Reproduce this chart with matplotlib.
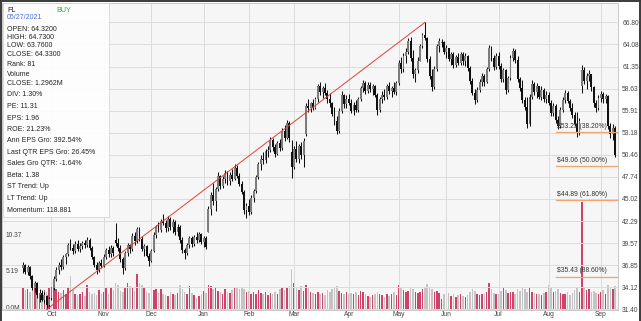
import numpy as np
import pandas as pd
import matplotlib
matplotlib.use("Agg")
import matplotlib.pyplot as plt
import matplotlib.transforms as mtransforms
from matplotlib.patches import Rectangle
from matplotlib.lines import Line2D

plt.rcParams['font.family'] = ['Liberation Sans', 'DejaVu Sans']

# trading days Sep 15 2020 .. Sep 10 2021
holidays = ["2020-11-26", "2020-12-25", "2021-01-01", "2021-01-18", "2021-02-15",
            "2021-04-02", "2021-05-31", "2021-07-05", "2021-09-06"]
dates = pd.bdate_range("2020-09-15", "2021-09-10", freq="C", holidays=holidays)

opens = [
    36.5, 36.9, 36.0, 36.6, 35.5, 34.0, 34.6, 33.2, 33.4, 32.6, 33.0, 31.9,
    32.8, 34.0, 35.2, 36.3, 36.9, 36.6, 37.8, 38.2, 39.3, 39.0, 38.6, 39.5, 38.9, 39.2, 39.6, 39.3, 40.0, 39.0, 37.9, 36.9, 36.2, 37.1,
    36.8, 37.9, 38.7, 38.2, 39.0, 40.0, 39.6, 39.0, 37.6, 36.5, 38.4, 39.3, 38.8, 40.5, 39.8, 41.3, 40.1, 38.9, 39.2, 38.0,
    37.4, 38.6, 40.6, 41.5, 41.2, 42.3, 42.0, 41.4, 42.6, 41.5, 42.2, 41.0, 41.6, 39.9, 38.7, 38.3, 39.4, 40.2, 39.5, 40.3, 40.0, 40.7,
    39.7, 40.2, 41.0, 43.8, 45.5, 44.8, 46.2, 47.8, 46.6, 47.5, 48.2, 47.2, 48.0, 47.5, 48.9, 47.9, 46.9, 45.9, 43.6,
    44.2, 43.4, 45.2, 46.0, 47.7, 49.3, 50.0, 49.8, 50.9, 51.1, 52.3, 51.4, 50.6, 51.9, 51.3, 53.4, 52.6, 54.4, 50.8,
    49.0, 51.2, 50.0, 51.5, 50.4, 53.0, 56.5, 56.2, 56.8, 56.3, 57.3, 58.9, 58.2, 58.7, 58.1, 57.3, 56.8, 55.5, 54.6, 53.4, 55.9, 57.8, 56.7,
    57.4, 56.9, 55.9, 56.6, 56.0, 57.3, 58.7, 59.3, 58.4, 59.1, 58.6, 58.9, 57.9, 56.0, 57.3, 57.9, 57.6, 58.9, 58.3, 58.7, 58.2,
    59.3, 61.8, 61.0, 62.6, 63.2, 64.5, 62.4, 60.5, 60.9, 62.1, 63.9, 65.2, 64.9, 62.3, 60.2, 58.8, 61.0, 63.9, 64.32, 64.33,
    63.2, 63.6, 62.3, 62.9, 61.5, 62.5, 61.8, 62.9, 62.0, 62.6, 61.2, 59.6, 58.1, 57.2, 58.5, 59.4, 60.2, 59.5, 61.0, 63.6, 62.4, 61.3,
    62.7, 61.4, 59.8, 60.9, 58.5, 59.9, 62.4, 63.3, 62.2, 59.8, 58.7, 57.2, 56.4, 54.3, 57.6, 59.2, 58.2, 58.9, 57.6, 58.5, 57.4,
    57.9, 56.9, 55.6, 56.5, 54.8, 54.0, 56.0, 57.2, 58.1, 57.1, 56.2, 55.4, 54.3, 53.2, 59.0, 60.9, 59.6, 60.2, 60.4, 58.8, 56.8, 56.2,
    57.5, 58.0, 57.3, 57.7, 54.0, 53.0, 53.8,
]
highs = [
    37.2, 37.0, 36.9, 36.8, 35.6, 34.9, 34.8, 33.9, 33.8, 33.5, 33.2, 32.9,
    34.2, 35.5, 36.6, 37.3, 37.6, 38.1, 38.4, 39.6, 40.1, 39.5, 39.8, 39.9, 39.6, 39.8, 40.0, 40.3, 40.2, 39.2, 38.0, 37.2, 37.4, 37.6,
    38.2, 39.0, 39.2, 39.3, 39.2, 42.0, 40.2, 39.4, 37.9, 38.6, 39.6, 39.5, 40.8, 41.0, 41.6, 41.5, 40.4, 39.5, 39.4, 38.3,
    38.8, 40.9, 41.8, 42.2, 42.6, 43.2, 42.4, 42.9, 42.8, 42.5, 42.4, 41.9, 41.8, 40.3, 39.0, 39.6, 40.5, 40.4, 40.6, 40.9, 41.0, 40.8,
    40.5, 40.4, 44.1, 45.9, 47.0, 46.5, 48.3, 48.0, 47.9, 48.6, 48.5, 48.4, 48.7, 49.3, 49.2, 48.2, 47.2, 46.1, 44.5,
    45.0, 45.5, 46.3, 48.0, 49.6, 50.4, 50.8, 51.2, 51.5, 52.7, 52.6, 51.8, 52.2, 52.4, 53.8, 54.2, 54.8, 54.6, 52.3,
    51.6, 52.2, 51.8, 52.0, 52.5, 56.9, 57.3, 57.0, 57.4, 57.6, 59.2, 59.4, 59.0, 59.3, 58.5, 58.1, 57.0, 56.4, 55.2, 56.2, 58.3, 58.0, 57.8,
    58.0, 57.3, 57.0, 57.2, 57.6, 59.0, 59.7, 59.6, 59.4, 59.5, 59.2, 59.1, 58.1, 57.6, 58.3, 58.6, 59.2, 59.5, 59.0, 59.4, 59.6,
    62.2, 62.5, 63.0, 63.6, 64.9, 65.0, 63.4, 61.2, 62.5, 64.2, 65.5, 66.8, 65.0, 62.6, 61.0, 61.4, 64.2, 64.9, 64.73, 64.5,
    64.0, 63.7, 63.2, 63.1, 62.8, 63.0, 63.2, 63.1, 63.0, 62.8, 61.4, 59.9, 58.6, 58.8, 59.8, 60.6, 60.5, 61.3, 64.0, 63.9, 62.8, 63.0,
    63.2, 61.8, 61.2, 61.0, 60.2, 62.8, 63.7, 63.5, 62.6, 60.1, 59.7, 57.6, 57.6, 58.0, 59.7, 59.5, 59.3, 59.0, 58.9, 58.7, 58.3,
    58.2, 57.2, 56.9, 56.7, 55.3, 56.4, 57.6, 58.5, 58.3, 57.4, 56.9, 55.8, 55.7, 55.0, 61.6, 61.3, 60.6, 60.9, 60.5, 59.0, 57.2, 57.8,
    58.3, 58.2, 58.0, 57.8, 54.4, 54.3, 54.0,
]
lows = [
    35.9, 35.8, 35.6, 35.2, 33.8, 33.6, 32.8, 32.3, 32.4, 32.2, 31.4, 31.6,
    32.6, 33.8, 34.9, 35.8, 36.2, 36.4, 37.0, 38.0, 38.7, 38.2, 38.4, 38.6, 38.5, 38.8, 39.0, 39.1, 38.7, 37.6, 36.6, 35.8, 36.0, 36.5,
    36.6, 37.6, 37.9, 37.8, 38.0, 39.2, 38.6, 37.2, 35.8, 36.3, 38.0, 38.4, 38.6, 39.4, 39.6, 39.8, 38.6, 38.0, 37.8, 36.7,
    37.2, 38.5, 40.2, 40.9, 41.0, 41.8, 41.0, 41.1, 41.2, 40.8, 40.6, 40.4, 39.6, 38.4, 37.6, 38.1, 39.0, 39.1, 39.2, 39.6, 39.7, 39.5,
    39.1, 38.9, 40.9, 43.1, 44.3, 43.5, 46.0, 46.2, 46.4, 47.0, 46.8, 46.8, 47.2, 47.3, 47.6, 46.6, 45.6, 43.2, 42.7,
    43.0, 43.2, 44.6, 45.8, 47.5, 48.6, 49.3, 49.5, 50.2, 50.8, 51.0, 50.2, 50.4, 51.0, 51.1, 52.2, 52.4, 52.0, 47.6,
    48.7, 49.6, 49.4, 50.0, 49.0, 52.8, 55.8, 55.8, 56.0, 56.1, 57.0, 57.8, 57.5, 57.9, 56.9, 56.4, 55.2, 54.2, 53.0, 53.2, 55.6, 56.3, 56.2,
    56.6, 55.6, 55.4, 55.7, 55.8, 57.1, 58.2, 58.0, 58.1, 58.2, 57.8, 57.6, 55.4, 55.8, 56.8, 57.2, 57.4, 58.0, 57.6, 58.0, 57.9,
    59.1, 60.6, 60.7, 61.8, 62.9, 62.0, 60.0, 59.5, 60.6, 62.0, 63.6, 64.6, 61.9, 59.8, 58.3, 58.6, 60.8, 63.2, 63.76, 62.9,
    62.4, 62.0, 61.6, 61.2, 61.3, 61.5, 61.6, 61.6, 61.4, 60.8, 59.2, 57.8, 56.7, 57.0, 58.2, 58.9, 59.0, 59.3, 60.8, 62.0, 60.9, 61.1,
    61.0, 59.4, 59.5, 58.0, 58.2, 59.7, 62.1, 61.8, 59.4, 58.3, 56.8, 56.0, 53.8, 54.0, 57.3, 57.8, 57.5, 57.3, 57.2, 57.0, 56.9,
    56.6, 55.2, 55.3, 54.4, 53.6, 53.8, 55.8, 56.8, 56.8, 55.9, 55.0, 54.0, 52.7, 52.9, 58.1, 59.2, 58.6, 59.6, 58.4, 56.4, 55.7, 56.0,
    57.0, 56.9, 56.8, 53.6, 52.6, 52.3, 50.2,
]
closes = [
    36.9, 36.0, 36.6, 35.5, 34.0, 34.6, 33.2, 33.4, 32.6, 33.2, 31.9, 32.7,
    34.0, 35.2, 36.3, 36.9, 36.6, 37.8, 38.2, 39.3, 39.0, 38.6, 39.5, 38.9, 39.2, 39.6, 39.3, 40.0, 39.0, 37.9, 36.9, 36.2, 37.1, 36.8,
    37.9, 38.7, 38.2, 39.0, 38.4, 39.6, 39.0, 37.6, 36.5, 38.4, 39.3, 38.8, 40.5, 39.8, 41.3, 40.1, 38.9, 39.2, 38.0, 37.4,
    38.6, 40.6, 41.5, 41.2, 42.3, 42.0, 41.4, 42.6, 41.5, 42.2, 41.0, 41.6, 39.9, 38.7, 38.3, 39.4, 40.2, 39.5, 40.3, 40.0, 40.7, 39.7,
    40.2, 39.1, 43.8, 45.5, 44.8, 46.2, 47.8, 46.6, 47.5, 48.2, 47.2, 48.0, 47.5, 48.9, 47.9, 46.9, 45.9, 43.6, 44.2,
    43.4, 45.2, 46.0, 47.7, 49.3, 50.0, 49.8, 50.9, 51.1, 52.3, 51.4, 50.6, 51.9, 51.3, 53.4, 52.6, 54.4, 52.5, 49.0,
    51.2, 50.0, 51.5, 50.4, 52.2, 56.5, 56.2, 56.8, 56.3, 57.3, 58.9, 58.2, 58.7, 58.1, 57.3, 56.8, 55.5, 54.6, 53.4, 55.9, 57.8, 56.7, 57.4,
    56.9, 55.9, 56.6, 56.0, 57.3, 58.7, 59.3, 58.4, 59.1, 58.6, 58.9, 57.9, 56.0, 57.3, 57.9, 57.6, 58.9, 58.3, 58.7, 58.2, 59.3,
    61.8, 61.0, 62.6, 63.2, 64.5, 62.4, 60.5, 60.9, 62.1, 63.9, 65.2, 64.9, 62.3, 60.2, 58.8, 61.0, 63.9, 64.5, 64.33, 63.2,
    63.6, 62.3, 62.9, 61.5, 62.5, 61.8, 62.9, 62.0, 62.6, 61.2, 59.6, 58.1, 57.2, 58.5, 59.4, 60.2, 59.5, 61.0, 63.6, 62.4, 61.3, 62.7,
    61.4, 59.8, 60.9, 58.5, 59.9, 62.4, 63.3, 62.2, 59.8, 58.7, 57.2, 56.4, 54.3, 57.6, 59.2, 58.2, 58.9, 57.6, 58.5, 57.4, 57.9,
    56.9, 55.6, 56.5, 54.8, 54.0, 56.0, 57.2, 58.1, 57.1, 56.2, 55.4, 54.3, 53.2, 54.6, 60.9, 59.6, 60.2, 60.4, 58.8, 56.8, 56.2, 57.5,
    58.0, 57.3, 57.7, 54.0, 53.0, 53.8, 50.4,
]
# volume, millions
volumes = [
    3.0, 2.6, 2.8, 2.3, 3.6, 3.1, 2.5, 2.2, 2.0, 2.6, 2.4, 3.0,
    3.6, 3.0, 2.7, 2.4, 2.2, 2.6, 2.0, 2.9, 4.6, 2.6, 2.0, 1.9, 2.0, 2.3, 1.8, 3.4, 2.4, 2.1, 2.2, 1.9, 2.6, 2.0,
    2.3, 2.9, 2.1, 3.1, 2.6, 3.6, 3.4, 2.5, 2.3, 3.1, 3.6, 3.2, 2.9, 2.5, 4.9, 3.6, 3.3, 2.9, 2.4, 2.2,
    2.9, 2.6, 2.8, 2.2, 2.7, 2.1, 1.9, 1.8, 2.3, 2.0, 1.9, 2.2, 3.3, 2.7, 2.3, 2.1, 3.2, 2.2, 1.9, 1.5, 1.8, 2.0,
    2.5, 2.2, 3.4, 3.2, 2.7, 3.0, 2.5, 2.3, 2.1, 2.7, 2.4, 2.2, 2.6, 3.1, 2.9, 2.8, 3.0, 2.7, 2.4,
    2.5, 2.1, 2.3, 2.0, 2.6, 2.2, 2.1, 2.4, 1.9, 2.2, 2.0, 2.3, 2.1, 2.7, 3.0, 2.6, 2.9, 3.2, 5.6,
    3.6, 3.0, 2.6, 3.2, 2.5, 3.4, 2.9, 2.3, 2.2, 2.1, 2.4, 2.0, 2.2, 1.9, 2.6, 2.3, 2.8, 3.0, 3.2, 2.5, 2.2, 2.1, 2.3,
    2.0, 2.2, 2.1, 2.3, 1.9, 2.5, 2.4, 2.0, 1.8, 1.7, 1.9, 2.1, 2.3, 2.0, 1.9, 1.7, 2.0, 1.8, 2.1, 2.3, 1.9,
    3.3, 2.9, 2.6, 2.4, 2.5, 3.0, 2.7, 2.3, 2.2, 2.4, 2.8, 3.0, 3.5, 3.1, 2.7, 2.3, 2.5, 2.2, 1.2962, 2.1,
    1.9, 2.2, 1.8, 2.0, 1.7, 1.9, 2.1, 1.8, 1.7, 1.9, 2.3, 2.7, 2.5, 2.0, 1.9, 2.1, 2.0, 2.4, 3.6, 2.7, 2.2, 2.0,
    2.1, 2.5, 3.0, 2.6, 2.2, 2.4, 2.3, 2.1, 2.8, 2.5, 3.0, 2.7, 2.4, 3.1, 2.3, 2.2, 2.0, 2.1, 1.9, 2.2, 2.4,
    3.3, 2.9, 2.3, 2.5, 2.7, 2.2, 2.0, 2.1, 2.3, 1.9, 2.2, 2.6, 2.9, 2.4, 15.1, 3.1, 2.6, 2.8, 2.3, 2.5, 2.2, 2.1,
    2.4, 2.6, 2.1, 3.3, 2.9, 2.7, 3.2,
]

price_ticks = [31.40, 34.12, 36.85, 39.57, 42.29, 45.02, 47.74, 50.46,
               53.18, 55.91, 58.63, 61.35, 64.08, 66.80]
vol_ticks = [0.0, 5.19, 10.37]
vol_labels = ["0.0M", "5.19", "10.37"]

fib_prices = [53.25, 49.06, 44.89, 35.43]
fib_pcts = [38.20, 50.00, 61.80, 88.60]
fib_start = "2021-08-05"

ticker = "FL"
signal = "BUY"
info_date = "05/27/2021"
info_rows = ["OPEN: 64.3200", "HIGH: 64.7300", "LOW: 63.7600", "CLOSE: 64.3300",
             "Rank: 81", "Volume", "CLOSE: 1.2962M", "DIV: 1.30%", "PE: 11.31",
             "EPS: 1.96", "ROE: 21.23%", "Ann EPS Gro: 392.54%",
             "Last QTR EPS Gro: 26.45%", "Sales Gro QTR: -1.64%", "Beta: 1.38",
             "ST Trend: Up", "LT Trend: Up", "Momentum: 118.881"]

W, H = 641, 321
o = np.array(opens)
h = np.array(highs)
l = np.array(lows)
c = np.array(closes)
v = np.array(volumes)
x = np.arange(len(dates))
up = c >= o
XLIM = (-8.8, 250.2)

fig = plt.figure(figsize=(W / 100, H / 100), dpi=100)
rect = [2 / W, 11 / H, 616 / W, 307 / H]

# volume underneath (red = up day, grey = down day)
vax = fig.add_axes(rect)
vax.set_facecolor("#f6f6f6")
vax.bar(x, v, width=0.65, color=np.where(up, "#d0426a", "#c4c4c4"), linewidth=0, zorder=2)
vax.set_xlim(*XLIM)
vax.set_ylim(-0.2, 43.2)
vax.set_yticks([])
vax.set_xticks([])
for s in vax.spines.values():
    s.set_visible(False)

ax = fig.add_axes(rect)
ax.patch.set_alpha(0)
ax.set_xlim(*XLIM)
ax.set_ylim(31.32, 69.2)

# grid
month_idx = [i for i in range(1, len(dates)) if dates[i].month != dates[i - 1].month]
for p in price_ticks:
    ax.axhline(p, color="#dcdcdc", lw=0.7, zorder=0)
for i in month_idx:
    ax.axvline(i, color="#dcdcdc", lw=0.7, zorder=0)

# candles
ax.vlines(x, l, h, color="#111111", lw=0.75, zorder=3)
body_lo = np.minimum(o, c)
body_h = np.maximum(np.abs(c - o), 0.08)
ax.bar(x, body_h, bottom=body_lo, width=0.8,
       color=np.where(up, "#7c7c7c", "#111111"), linewidth=0, zorder=4)

# trend line low -> high
i_lo, i_hi = int(np.argmin(l)), int(np.argmax(h))
ax.plot([i_lo, i_hi], [l[i_lo], h[i_hi]], color="#e0403a", lw=0.7, zorder=5)

# fibonacci levels
fs = dates.get_loc(pd.Timestamp(fib_start))
for p, pct in zip(fib_prices, fib_pcts):
    ax.plot([fs, XLIM[1]], [p, p], color="#f2a470", lw=0.9, zorder=5)
    ax.annotate(f"${p:.2f} ({pct:.2f}%)", (fs, p), xytext=(0.6, 1.6),
                textcoords="offset points", fontsize=4.9, color="#333333",
                va="bottom", ha="left", zorder=6)

# axes labels
ax.yaxis.tick_right()
ax.set_yticks(price_ticks)
ax.set_yticklabels([f"{p:.2f}" for p in price_ticks])
ax.set_xticks(month_idx)
ax.set_xticklabels([dates[i].strftime("%b") for i in month_idx])
ax.tick_params(axis="both", length=0, labelsize=4.8, colors="#444444")
ax.tick_params(axis="y", pad=3)
ax.tick_params(axis="x", pad=0.8)
for s in ax.spines.values():
    s.set_color("#c8c8c8")
    s.set_linewidth(0.7)

# volume scale labels at left
tr = mtransforms.blended_transform_factory(vax.transAxes, vax.transData)
for vt, vl in zip(vol_ticks, vol_labels):
    vax.text(4 / 616, vt, vl, transform=tr, fontsize=4.8, color="#444444",
             ha="left", va="center", zorder=6)

# info box
def fx(px):
    return px / W

def fy(py):
    return 1 - py / H

fig.add_artist(Rectangle((fx(3), fy(217)), fx(106), 214 / H, transform=fig.transFigure,
                         facecolor="white", alpha=0.88, edgecolor="#d0d0d0", lw=0.6, zorder=10))
fig.text(fx(7), fy(10), ticker, fontsize=5.2, color="#222222", va="center", zorder=11)
fig.text(fx(56), fy(10), signal, fontsize=5.2, color="#3aa845", va="center", zorder=11)
fig.text(fx(7), fy(17.5), info_date, fontsize=5.0, color="#4a6fe0", va="center", zorder=11)
info_y = [29.3, 37.3, 45.5, 54, 64, 75, 83.5, 95, 106.7, 118.3, 129.5, 141,
          152.7, 164, 175.5, 187, 198.3, 210]
for yy, s in zip(info_y, info_rows):
    fig.text(fx(7), fy(yy), s, fontsize=5.0, color="#222222", va="center", zorder=11)

# outer frame: top, left, right
for xs, ys in [([0, 1], [0.998, 0.998]), ([0.0015, 0.0015], [0, 1]), ([0.9985, 0.9985], [0, 1])]:
    fig.add_artist(Line2D(xs, ys, transform=fig.transFigure, color="#3a3a3a", lw=1.4, zorder=12))

fig.savefig("out.png", dpi=100)
